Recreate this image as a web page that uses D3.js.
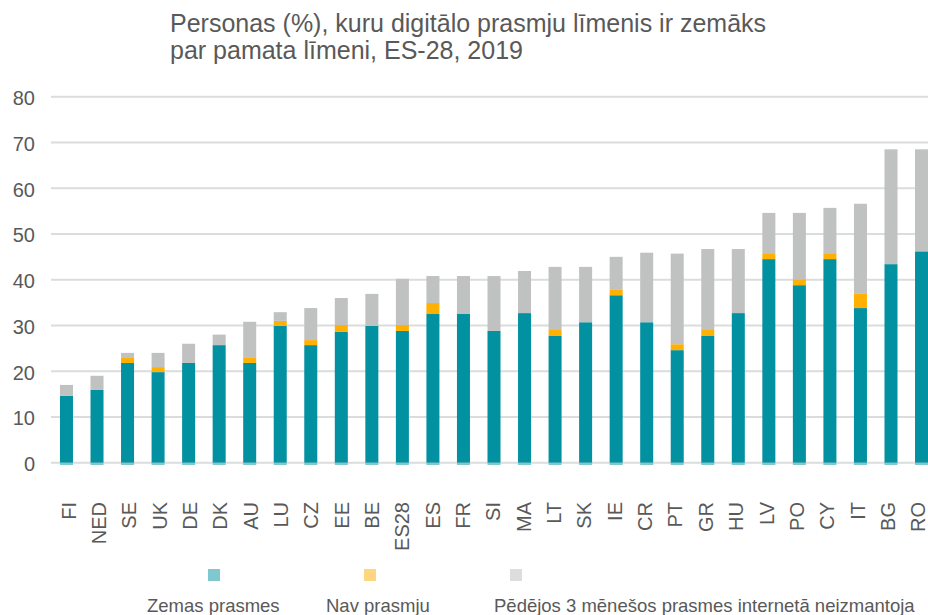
<!DOCTYPE html>
<html>
<head>
<meta charset="utf-8">
<script src="https://cdn.jsdelivr.net/npm/d3@7"></script>
<style>
  html, body { margin: 0; padding: 0; background: #fff; }
  svg { display: block; font-family: "Liberation Sans", Arial, sans-serif; }
</style>
</head>
<body>
<svg id="chart" width="928" height="615"></svg>
<script>
const titleLines = ["Personas (%), kuru digitālo prasmju līmenis ir zemāks", "par pamata līmeni, ES-28, 2019"];
const categories = ["FI","NED","SE","UK","DE","DK","AU","LU","CZ","EE","BE","ES28","ES","FR","SI","MA","LT","SK","IE","CR","PT","GR","HU","LV","PO","CY","IT","BG","RO"];
const lowSkills  = [14.6,15.9,21.8,19.8,21.8,25.7,21.8,29.9,25.7,28.6,29.9,28.8,32.5,32.5,28.8,32.7,27.7,30.7,36.6,30.7,24.6,27.7,32.7,44.5,38.8,44.5,33.8,43.4,46.2];
const noSkills   = [0,0,1.1,1.1,0,0,1.1,1.1,1.1,1.5,0,1.3,2.4,0,0,0,1.3,0,1.3,0,1.3,1.3,0,1.3,1.3,1.3,3.1,0,0];
const notUsed    = [2.4,3.1,1.1,3.1,4.2,2.3,7.9,1.9,7.0,5.9,7.0,10.1,5.9,8.3,12.0,9.2,13.8,12.1,7.1,15.2,19.8,17.7,14.0,8.8,14.5,9.9,19.7,25.1,22.3];
const seriesNames = ["Zemas prasmes","Nav prasmju","Pēdējos 3 mēnešos prasmes internetā neizmantoja"];
const yTicks = [0,10,20,30,40,50,60,70,80];

const colors = ["#0291a1","#ffb000","#c0c1c1"];
const legendColors = ["#80c8d0","#ffd680","#dddddd"];

const svg = d3.select("#chart");
const x = d3.scaleBand().domain(categories).range([51.2, 936.8]).paddingInner(0.574).paddingOuter(0.287);
const xLabel = d3.scalePoint().domain(categories).range([68, 917.5]);
const y = d3.scaleLinear().domain([0, 80]).range([462.7, 96.7]);

// Title
const title = svg.append("text").attr("fill", "#595959").style("font-size", "25px");
titleLines.forEach((t, i) => {
  title.append("tspan").attr("x", 170).attr("y", 31.5 + i * 27).text(t);
});

// Gridlines
svg.append("g").selectAll("line").data(yTicks).join("line")
  .attr("x1", 51).attr("x2", 928)
  .attr("y1", d => y(d)).attr("y2", d => y(d))
  .attr("stroke", "#dadddc").attr("stroke-width", 2);

// Y axis labels
const yAxis = d3.axisLeft(y).tickValues(yTicks).tickSize(0).tickPadding(0);
const yg = svg.append("g").attr("transform", "translate(35,0)").call(yAxis);
yg.select(".domain").remove();
yg.selectAll("text").attr("fill", "#595959").style("font-size", "20px")
  .style("font-family", "'Liberation Sans', Arial, sans-serif").attr("dy", "0.4em");

// Stacked bars
const rows = categories.map((c, i) => ({cat: c, low: lowSkills[i], none: noSkills[i], unused: notUsed[i]}));
const stack = d3.stack().keys(["low","none","unused"])(rows);
svg.append("g").selectAll("g").data(stack).join("g")
  .attr("fill", (d, i) => colors[i])
  .selectAll("rect").data(d => d).join("rect")
  .attr("x", d => x(d.data.cat))
  .attr("width", x.bandwidth())
  .attr("y", d => y(d[1]))
  .attr("height", d => Math.max(0, y(d[0]) - y(d[1])));

// small light marks under baseline
svg.append("g").selectAll("rect").data(categories).join("rect")
  .attr("x", d => x(d)).attr("width", x.bandwidth())
  .attr("y", y(0) + 0.3).attr("height", 2)
  .attr("fill", "#80c8d0");

// X axis labels
const xAxis = d3.axisBottom(xLabel).tickSize(0).tickPadding(0);
const xg = svg.append("g").attr("transform", "translate(0,502)").call(xAxis);
xg.select(".domain").remove();
xg.selectAll("text")
  .attr("fill", "#595959").style("font-size", "20px")
  .style("font-family", "'Liberation Sans', Arial, sans-serif")
  .attr("transform", "rotate(-90)")
  .attr("text-anchor", "end")
  .attr("x", 0).attr("y", 0).attr("dx", 0).attr("dy", "0.36em");

// Legend
const legendSwatchX = [208, 364, 510];
const legendTextX = [147, 326, 494];
const lg = svg.append("g");
seriesNames.forEach((name, i) => {
  lg.append("rect").attr("x", legendSwatchX[i]).attr("y", 569).attr("width", 12).attr("height", 12)
    .attr("fill", legendColors[i]);
  lg.append("text").attr("x", legendTextX[i]).attr("y", 611.5)
    .attr("fill", "#595959").style("font-size", "18.5px").text(name);
});
</script>
</body>
</html>
